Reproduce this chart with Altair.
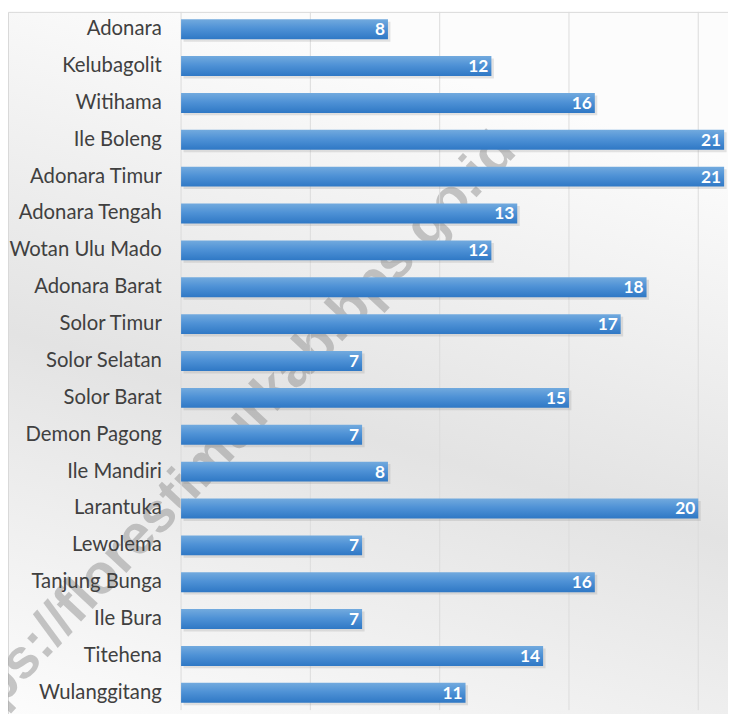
import altair as alt
import pandas as pd

categories = ["Adonara", "Kelubagolit", "Witihama", "Ile Boleng", "Adonara Timur",
              "Adonara Tengah", "Wotan Ulu Mado", "Adonara Barat", "Solor Timur",
              "Solor Selatan", "Solor Barat", "Demon Pagong", "Ile Mandiri",
              "Larantuka", "Lewolema", "Tanjung Bunga", "Ile Bura", "Titehena",
              "Wulanggitang"]
values = [8, 12, 16, 21, 21, 13, 12, 18, 17, 7, 15, 7, 8, 20, 7, 16, 7, 14, 11]
grid_values = [0, 5, 10, 15, 20]
watermark = "https://florestimurkab.bps.go.id"

W, H = 553, 706
LEFT = 175
XMAX = 21.15

df = pd.DataFrame({"kecamatan": categories, "jumlah": values})
grid_df = pd.DataFrame({"g": grid_values})
one = pd.DataFrame({"k": [0]})

xscale = alt.Scale(domain=[0, XMAX], nice=False, zero=True)
yscale = alt.Scale(domain=categories, paddingInner=0.46, paddingOuter=0.2)
yaxis = alt.Axis(ticks=False, tickSize=0, domain=False, labelPadding=20,
                 labelFont="Lato", labelFontSize=20.5, labelColor="#404040",
                 labelLimit=300, title=None, zindex=1)

bg = alt.Chart(one).mark_rect(
    fill=alt.Gradient(
        gradient="linear", x1=0.3, y1=0, x2=0, y2=1,
        stops=[alt.GradientStop(color="#fcfcfc", offset=0),
               alt.GradientStop(color="#e3e3e3", offset=0.5),
               alt.GradientStop(color="#fcfcfc", offset=1)]),
    stroke="#d9d9d9", strokeWidth=1,
).encode(x=alt.value(-LEFT + 0.5), x2=alt.value(W + 5), y=alt.value(0.5), y2=alt.value(H + 5))

wm = alt.Chart(one).mark_text(
    text=watermark, angle=313, font="Liberation Sans", fontWeight="bold",
    fontSize=56, color="#9a9a9a", opacity=0.55, align="center", baseline="middle",
).encode(x=alt.value(42), y=alt.value(438))

grid = alt.Chart(grid_df).mark_rule(color="#dcdcdc", strokeWidth=1).encode(
    x=alt.X("g:Q", scale=xscale, axis=None),
    y=alt.value(0), y2=alt.value(H),
)

shadow = alt.Chart(df).mark_bar(color="#8a8a8a", opacity=0.22, xOffset=2.5, yOffset=2.5).encode(
    x=alt.X("jumlah:Q", scale=xscale, axis=None),
    y=alt.Y("kecamatan:N", scale=yscale, sort=categories, axis=yaxis),
)

bars = alt.Chart(df).mark_bar(
    color=alt.Gradient(
        gradient="linear", x1=0, y1=0, x2=0, y2=1,
        stops=[alt.GradientStop(color="#72aade", offset=0),
               alt.GradientStop(color="#4f92d6", offset=0.45),
               alt.GradientStop(color="#2f78c5", offset=1)]),
).encode(
    x=alt.X("jumlah:Q", scale=xscale, axis=None),
    y=alt.Y("kecamatan:N", scale=yscale, sort=categories, axis=yaxis),
)

labels = alt.Chart(df).mark_text(
    align="right", baseline="middle", dx=-3, dy=1, color="white",
    font="Lato", fontWeight="bold", fontSize=17.5,
).encode(
    x=alt.X("jumlah:Q", scale=xscale, axis=None),
    y=alt.Y("kecamatan:N", scale=yscale, sort=categories, axis=yaxis),
    text=alt.Text("jumlah:Q"),
)

chart = alt.layer(bg, wm, grid, shadow, bars, labels).properties(
    width=W, height=H,
    autosize=alt.AutoSizeParams(type="none"),
    padding={"left": LEFT, "top": 0, "right": 0, "bottom": 0},
).configure_view(stroke=None)

chart.save("out.html", embed_options={"renderer": "svg", "actions": False})
